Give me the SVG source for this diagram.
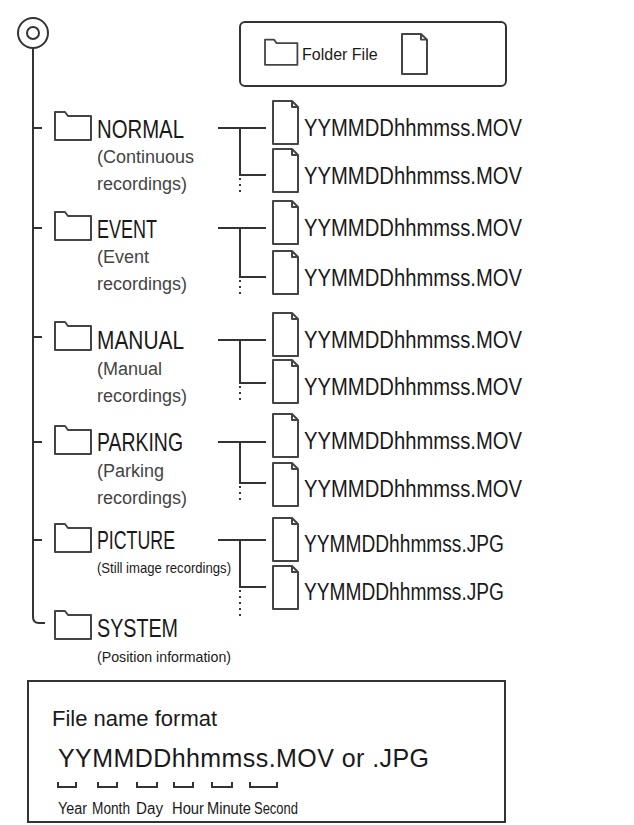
<svg xmlns="http://www.w3.org/2000/svg" width="634" height="825" viewBox="0 0 634 825">
<style>
.ln{stroke:#333;stroke-width:2;fill:none}
.ic{stroke:#444;stroke-width:2;fill:#fff;stroke-linejoin:round}
.t{font-family:"Liberation Sans",Arial,sans-serif;fill:#1a1a1a}
.big{font-size:25px}
.sub{font-size:18px;fill:#444}
.fn{font-size:23px}
.dot{stroke:#333;stroke-width:2;stroke-dasharray:2 4;fill:none}
</style>
<defs>
<path id="folder" class="ic" d="M0,4 h10 l3,4 h23 v24 h-36 z"/>
<path id="file" class="ic" d="M0,0 h19 l6,6 v37 h-25 z M19,0 v6 h6"/>
</defs>
<rect width="634" height="825" fill="#fff"/>
<g id="root"><circle cx="33" cy="33" r="15" class="ln"/><circle cx="33" cy="33" r="6" class="ln" stroke-width="1.2"/></g>
<g id="legend">
<rect x="240" y="22" width="266" height="64" rx="5" class="ln" stroke="#555"/>
<use href="#folder" transform="translate(265,36) scale(0.9)"/>
<text class="t" x="302" y="60" font-size="16" fill="#333">Folder File</text>
<use href="#file" transform="translate(402,34) scale(1,0.93)"/>
</g>
<g id="connectors">
<path class="ln" d="M33,48 V617 Q33,623 39,623 H45"/>
<path class="ln" d="M33,128 H42 M33,228 H42 M33,337 H42 M33,442 H42 M33,540 H42"/>
<path class="ln" d="M218,128 H266 M240,128 V175 H266"/><path class="dot" d="M240,178 V196"/>
<path class="ln" d="M218,228 H266 M240,228 V277 H266"/><path class="dot" d="M240,280 V298"/>
<path class="ln" d="M218,340 H266 M240,340 V383 H266"/><path class="dot" d="M240,386 V404"/>
<path class="ln" d="M218,442 H266 M240,442 V483 H266"/><path class="dot" d="M240,486 V504"/>
<path class="ln" d="M218,540 H266 M240,540 V587 H266"/><path class="dot" d="M240,590 V616"/>
</g>
<g id="normal"><use href="#folder" x="55" y="108"/><text class="t big" x="97" y="138" textLength="87" lengthAdjust="spacingAndGlyphs">NORMAL</text><text class="t sub" x="97" y="163">(Continuous</text><text class="t sub" x="97" y="190">recordings)</text></g>
<g id="event"><use href="#folder" x="55" y="208"/><text class="t big" x="97" y="238" textLength="60" lengthAdjust="spacingAndGlyphs">EVENT</text><text class="t sub" x="97" y="263">(Event</text><text class="t sub" x="97" y="290">recordings)</text></g>
<g id="manual"><use href="#folder" x="55" y="318"/><text class="t big" x="97" y="349" textLength="87" lengthAdjust="spacingAndGlyphs">MANUAL</text><text class="t sub" x="97" y="375">(Manual</text><text class="t sub" x="97" y="402">recordings)</text></g>
<g id="parking"><use href="#folder" x="55" y="422"/><text class="t big" x="97" y="451" textLength="86" lengthAdjust="spacingAndGlyphs">PARKING</text><text class="t sub" x="97" y="477">(Parking</text><text class="t sub" x="97" y="504">recordings)</text></g>
<g id="picture"><use href="#folder" x="55" y="520"/><text class="t big" x="97" y="549" textLength="78" lengthAdjust="spacingAndGlyphs">PICTURE</text><text class="t" x="97" y="573" font-size="15" fill="#444" textLength="134" lengthAdjust="spacingAndGlyphs">(Still image recordings)</text></g>
<g id="system"><use href="#folder" x="55" y="607"/><text class="t big" x="97" y="637" textLength="81" lengthAdjust="spacingAndGlyphs">SYSTEM</text><text class="t" x="97" y="662" font-size="15" fill="#444" textLength="134" lengthAdjust="spacingAndGlyphs">(Position information)</text></g>
<g id="files">
<use href="#file" x="273" y="101"/><text class="t fn" x="304" y="136" textLength="218" lengthAdjust="spacingAndGlyphs">YYMMDDhhmmss.MOV</text>
<use href="#file" x="273" y="149"/><text class="t fn" x="304" y="184" textLength="218" lengthAdjust="spacingAndGlyphs">YYMMDDhhmmss.MOV</text>
<use href="#file" x="273" y="201"/><text class="t fn" x="304" y="236" textLength="218" lengthAdjust="spacingAndGlyphs">YYMMDDhhmmss.MOV</text>
<use href="#file" x="273" y="251"/><text class="t fn" x="304" y="286" textLength="218" lengthAdjust="spacingAndGlyphs">YYMMDDhhmmss.MOV</text>
<use href="#file" x="273" y="313"/><text class="t fn" x="304" y="348" textLength="218" lengthAdjust="spacingAndGlyphs">YYMMDDhhmmss.MOV</text>
<use href="#file" x="273" y="360"/><text class="t fn" x="304" y="395" textLength="218" lengthAdjust="spacingAndGlyphs">YYMMDDhhmmss.MOV</text>
<use href="#file" x="273" y="414"/><text class="t fn" x="304" y="449" textLength="218" lengthAdjust="spacingAndGlyphs">YYMMDDhhmmss.MOV</text>
<use href="#file" x="273" y="463"/><text class="t fn" x="304" y="497" textLength="218" lengthAdjust="spacingAndGlyphs">YYMMDDhhmmss.MOV</text>
<use href="#file" x="273" y="518"/><text class="t fn" x="304" y="552" textLength="200" lengthAdjust="spacingAndGlyphs">YYMMDDhhmmss.JPG</text>
<use href="#file" x="273" y="566"/><text class="t fn" x="304" y="600" textLength="200" lengthAdjust="spacingAndGlyphs">YYMMDDhhmmss.JPG</text>
</g>
<g id="format">
<rect x="28" y="681" width="477" height="141" class="ln" stroke="#555"/>
<text class="t" x="52" y="726" font-size="22">File name format</text>
<text class="t" x="58" y="767" font-size="25" textLength="371" lengthAdjust="spacing">YYMMDDhhmmss.MOV or .JPG</text>
<path class="ln" stroke-width="3" d="M58,782 v5 h18 v-5 M98,782 v5 h19 v-5 M137,782 v5 h20 v-5 M174,782 v5 h19 v-5 M212,782 v5 h20 v-5 M250,782 v5 h27 v-5"/>
<g class="t" font-size="16">
<text x="58" y="814" textLength="29" lengthAdjust="spacingAndGlyphs">Year</text>
<text x="92" y="814" textLength="38" lengthAdjust="spacingAndGlyphs">Month</text>
<text x="136" y="814" textLength="27" lengthAdjust="spacingAndGlyphs">Day</text>
<text x="172" y="814" textLength="32" lengthAdjust="spacingAndGlyphs">Hour</text>
<text x="207" y="814" textLength="44" lengthAdjust="spacingAndGlyphs">Minute</text>
<text x="254" y="814" textLength="44" lengthAdjust="spacingAndGlyphs">Second</text>
</g>
</g>
</svg>
